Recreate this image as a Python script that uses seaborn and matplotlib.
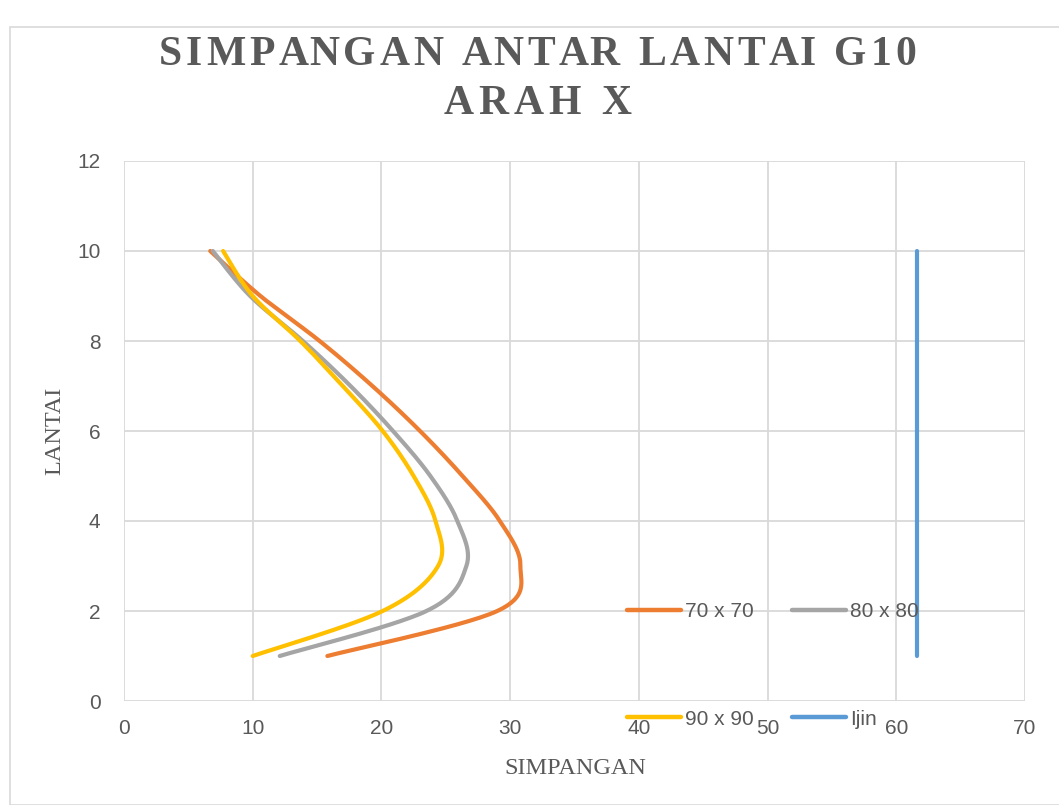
import numpy as np
import pandas as pd
import matplotlib
matplotlib.use("Agg")
import matplotlib.pyplot as plt
import seaborn as sns
from matplotlib.lines import Line2D
from matplotlib.patches import Rectangle
from matplotlib.font_manager import FontProperties

# ---- data ----
lantai = [1, 2, 3, 4, 5, 6, 7, 8, 9, 10]
s70 = [15.8, 29.0, 30.8, 29.2, 26.3, 23.0, 19.3, 15.2, 10.6, 6.7]
s80 = [12.1, 23.5, 26.6, 25.9, 23.8, 20.9, 17.6, 13.9, 9.8, 6.9]
s90 = [10.0, 20.1, 24.4, 24.2, 22.5, 20.1, 17.0, 13.7, 10.0, 7.7]
ijin = [61.6] * 10
series_names = ["70 x 70", "80 x 80", "90 x 90", "Ijin"]
colors = ["#ED7D31", "#A5A5A5", "#FFC000", "#5B9BD5"]
x_ticks = [0, 10, 20, 30, 40, 50, 60, 70]
y_ticks = [0, 2, 4, 6, 8, 10, 12]
title_lines = ["SIMPANGAN ANTAR LANTAI G10", "ARAH X"]


def smooth(xs, ys, n=30):
    """Excel-style smoothed line (Bezier through points, Catmull-Rom control points)."""
    P = np.column_stack([xs, ys]).astype(float)
    ext = np.vstack([P[0], P, P[-1]])
    out = []
    t = np.linspace(0, 1, n)[:, None]
    for i in range(len(P) - 1):
        p0, p1, p2, p3 = ext[i], ext[i + 1], ext[i + 2], ext[i + 3]
        c1 = p1 + (p2 - p0) / 6.0
        c2 = p2 - (p3 - p1) / 6.0
        seg = ((1 - t) ** 3) * p1 + 3 * ((1 - t) ** 2) * t * c1 + 3 * (1 - t) * t ** 2 * c2 + t ** 3 * p2
        out.append(seg if i == 0 else seg[1:])
    arr = np.vstack(out)
    return arr[:, 0], arr[:, 1]


sns.set_theme(style="white")
plt.rcParams["font.family"] = ["Liberation Sans", "DejaVu Sans"]

W, H = 1059, 805
fig = plt.figure(figsize=(W / 100, H / 100), dpi=100)
ax = fig.add_axes([124 / W, 1 - 701 / H, (1025 - 124) / W, (701 - 161) / H])

frames = []
for name, vals in zip(series_names, [s70, s80, s90, ijin]):
    sx, sy = smooth(vals, lantai)
    frames.append(pd.DataFrame({"SIMPANGAN": sx, "LANTAI": sy, "seri": name}))
df = pd.concat(frames, ignore_index=True)

for name, col in zip(series_names, colors):
    sub = df[df["seri"] == name]
    sns.lineplot(data=sub, x="SIMPANGAN", y="LANTAI", sort=False, estimator=None,
                 color=col, linewidth=3.0, ax=ax, legend=False,
                 solid_capstyle="round")

ax.set_xlim(0, 70)
ax.set_ylim(0, 12)
ax.set_xticks(x_ticks)
ax.set_yticks(y_ticks)
ax.grid(True, color="#D9D9D9", linewidth=1.3)
ax.set_axisbelow(True)
for sp in ax.spines.values():
    sp.set_visible(False)
ax.tick_params(axis="x", length=0, labelsize=15, labelcolor="#595959", pad=13)
ax.tick_params(axis="y", length=0, labelsize=15, labelcolor="#595959", pad=17)

ax.set_xlabel("SIMPANGAN", family="Liberation Serif", fontsize=17.5, color="#595959", va="center")
ax.set_ylabel("LANTAI", family="Liberation Serif", fontsize=17.5, color="#595959", va="center")
ax.xaxis.set_label_coords((575 - 124) / 901, (701 - 768) / 540)
ax.yaxis.set_label_coords((55 - 124) / 901, 0.5)

# letter-spaced bold serif title
renderer = fig.canvas.get_renderer()
tprop = FontProperties(family="Liberation Serif", weight="bold", size=30)


def text_w(s):
    w, h, d = renderer.get_text_width_height_descent(s, tprop, ismath=False)
    return w


def spaced_title(text, xc, yc, extra):
    base = text_w("I")
    total = text_w(text) + extra * (len(text) - 1)
    left = xc - total / 2
    for i, ch in enumerate(text):
        if ch == " ":
            continue
        off = (text_w(text[:i] + "I") - base) if i > 0 else 0
        x = left + off + extra * i
        fig.text(x / W, 1 - yc / H, ch, ha="left", va="center",
                 fontproperties=tprop, color="#595959")


spaced_title(title_lines[0], 537.5, 55, 3.9)
spaced_title(title_lines[1], 537.5, 104, 5.0)

# chart border
fig.patches.append(Rectangle((10 / W, 0), 1.2, 1 - 27 / H, transform=fig.transFigure,
                             fill=False, edgecolor="#D9D9D9", linewidth=1.2))

handles = [Line2D([], [], color=c, linewidth=3.2, solid_capstyle="round") for c in colors]
order = [0, 2, 1, 3]
leg = fig.legend([handles[i] for i in order], [series_names[i] for i in order],
                 loc="upper left", bbox_to_anchor=(627 / W, 1 - 602 / H), ncol=2,
                 frameon=False, fontsize=15, handlelength=2.6, handletextpad=0.2,
                 columnspacing=1.8, labelspacing=4.25, borderpad=0, borderaxespad=0)
for t in leg.get_texts():
    t.set_color("#595959")

fig.savefig("out.png", dpi=100)
